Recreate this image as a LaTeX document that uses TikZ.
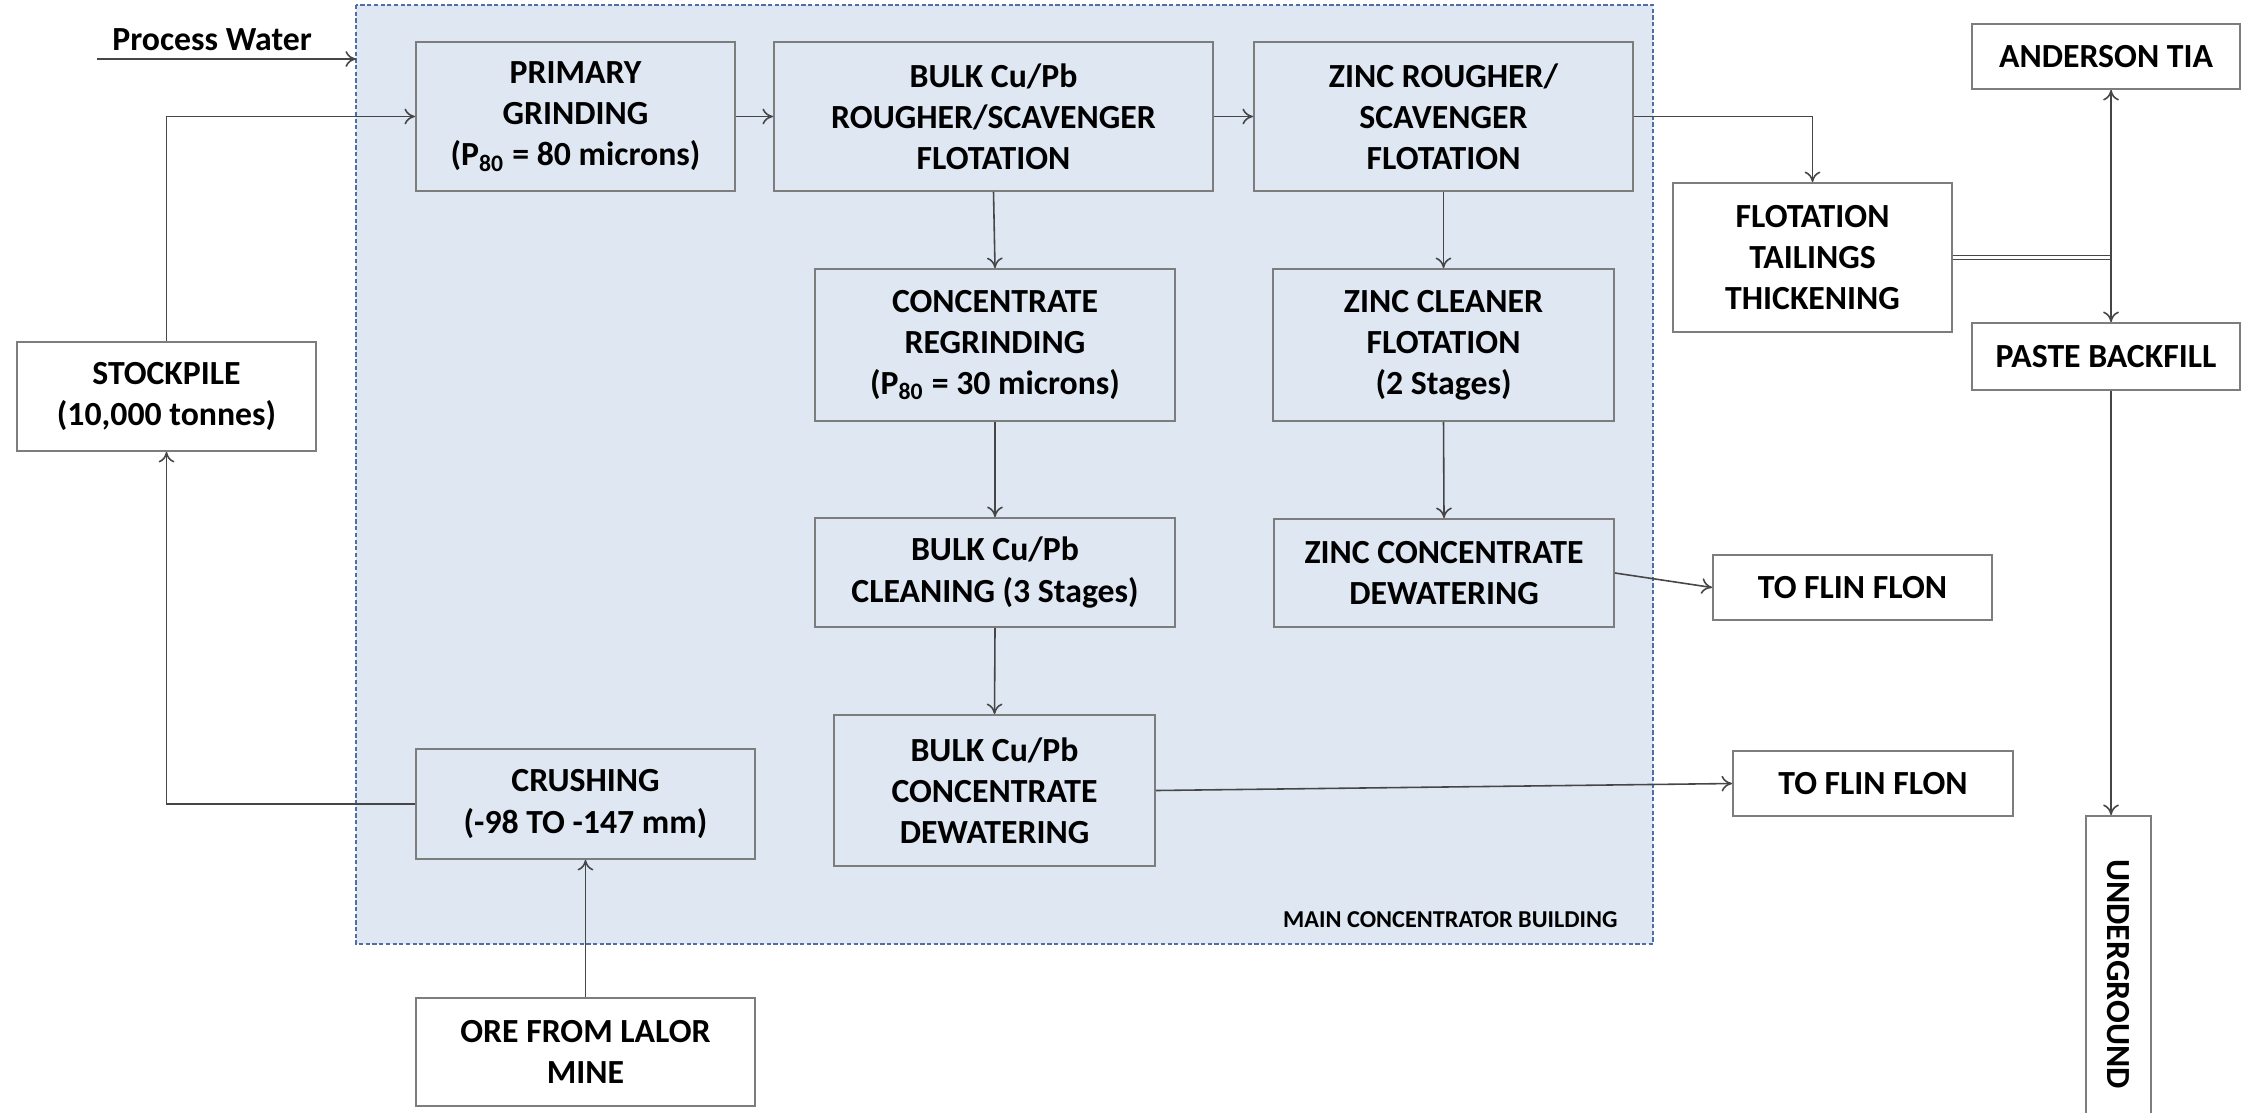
\documentclass[tikz,border=0pt]{standalone}
\usepackage{fontspec}
\setmainfont{Carlito}
\usetikzlibrary{arrows.meta}
\definecolor{bldg}{RGB}{222,231,242}
\definecolor{bldgedge}{RGB}{80,110,165}
\definecolor{boxedge}{RGB}{125,125,125}
\definecolor{linecol}{RGB}{70,70,70}
\newcommand\boxfont{\fontsize{9.6}{11.7}\selectfont\bfseries}
\newcommand\smallfont{\fontsize{6.9}{8}\selectfont\bfseries}
\begin{document}
\begin{tikzpicture}[x=0.01cm, y=-0.01cm,
  box/.style={draw=boxedge, line width=0.5pt, align=center, inner sep=0pt, font=\boxfont, text=black},
  wbox/.style={box, fill=white},
  conn/.style={draw=linecol, line width=0.45pt, -{To[length=3pt,width=4.5pt]}},
  plain/.style={draw=linecol, line width=0.45pt}]
\useasboundingbox (0,0) rectangle (2243,1112);
% building
\fill[bldg] (356,5) rectangle (1653,944);
\draw[bldgedge, line width=0.5pt, dash pattern=on 1.2pt off 0.7pt] (356,5) rectangle (1653,944);
\node[anchor=base east, font=\smallfont] (bldglabel) at (1630,927) {MAIN CONCENTRATOR BUILDING};

% nodes
\node[box, minimum width=3.19cm, minimum height=1.49cm] (prim) at (575.5,116.5) {PRIMARY\\GRINDING\\(P\textsubscript{80} = 80 microns)};
\node[box, minimum width=4.39cm, minimum height=1.49cm] (bulkr) at (993.5,116.5) {BULK Cu/Pb\\ROUGHER/SCAVENGER\\FLOTATION};
\node[box, minimum width=3.79cm, minimum height=1.49cm] (zincr) at (1443.5,116.5) {ZINC ROUGHER/\\SCAVENGER\\FLOTATION};
\node[box, minimum width=3.60cm, minimum height=1.52cm] (regr) at (995,345) {CONCENTRATE\\REGRINDING\\(P\textsubscript{80} = 30 microns)};
\node[box, minimum width=3.41cm, minimum height=1.52cm] (zincc) at (1443.5,345) {ZINC CLEANER\\FLOTATION\\(2 Stages)};
\node[box, minimum width=3.60cm, minimum height=1.09cm] (clean) at (995,572.5) {BULK Cu/Pb\\CLEANING (3 Stages)};
\node[box, minimum width=3.40cm, minimum height=1.08cm] (zincd) at (1444,573) {ZINC CONCENTRATE\\DEWATERING};
\node[box, minimum width=3.21cm, minimum height=1.51cm] (bulkd) at (994.5,790.5) {BULK Cu/Pb\\CONCENTRATE\\DEWATERING};
\node[box, minimum width=3.39cm, minimum height=1.10cm] (crush) at (585.5,804) {CRUSHING\\(-98 TO -147 mm)};

\node[wbox, minimum width=2.99cm, minimum height=1.09cm] (stock) at (166.5,396.5) {STOCKPILE\\(10,000 tonnes)};
\node[wbox, minimum width=3.39cm, minimum height=1.08cm] (ore) at (585.5,1052) {ORE FROM LALOR\\MINE};
\node[wbox, minimum width=2.79cm, minimum height=1.49cm] (tail) at (1812.5,257.5) {FLOTATION\\TAILINGS\\THICKENING};
\node[wbox, minimum width=2.68cm, minimum height=0.65cm] (anders) at (2106,56.5) {ANDERSON TIA};
\node[wbox, minimum width=2.68cm, minimum height=0.67cm] (paste) at (2106,356.5) {PASTE BACKFILL};
\node[wbox, minimum width=2.79cm, minimum height=0.65cm] (flin1) at (1852.5,587.5) {TO FLIN FLON};
\node[wbox, minimum width=2.80cm, minimum height=0.65cm] (flin2) at (1873,783.5) {TO FLIN FLON};
\node[wbox, rotate=-90, minimum width=3.16cm, minimum height=0.65cm] (under) at (2118.5,974) {UNDERGROUND};

% process water
\node[anchor=base west, font=\boxfont] (pw) at (100,50) {Process Water};
\coordinate (pwstart) at (97,59);
\coordinate (pwend) at (356,59);
\draw[conn] (pwstart) -- (pwend);

% stockpile loop
\draw[conn] (crush.west) -- (stock.south |- crush.west) -- (stock.south);
\draw[conn] (stock.north) -- (stock.north |- prim.west) -- (prim.west);
\draw[conn] (ore.north) -- (crush.south);

% main line
\draw[conn] (prim.east) -- (bulkr.west);
\draw[conn] (bulkr.east) -- (zincr.west);
\draw[conn] (bulkr.south) -- (regr.north);
\draw[conn] (regr.south) -- (clean.north);
\draw[conn] (clean.south) -- (bulkd.north);
\draw[conn] (zincr.south) -- (zincc.north);
\draw[conn] (zincc.south) -- (zincd.north);
\draw[conn] (zincd.east) -- (flin1.west);
\draw[conn] (bulkd.east) -- (flin2.west);

% tailings
\draw[conn] (zincr.east) -| (tail.north);
\coordinate (jn) at (2111,257.5);
\draw[draw=linecol, line width=0.4pt, double=white, double distance=0.03cm] (tail.east) -- (jn);
\draw[conn] (jn) -- (jn |- anders.south);
\draw[conn] (jn) -- (jn |- paste.north);
\draw[conn] (jn |- paste.south) -- (jn |- under.west);
\end{tikzpicture}
\end{document}
